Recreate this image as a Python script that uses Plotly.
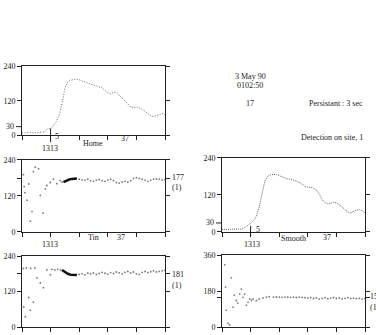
import plotly.graph_objects as go

W, H = 376, 335

# ---------------- data ----------------
home_x = list(range(0, 101, 2))
home_y = [8, 9, 8, 10, 9, 10, 11, 10, 12, 24, 22, 35, 48, 70, 110, 165, 186, 192, 195, 196,
          193, 190, 186, 182, 178, 175, 172, 168, 165, 156, 148, 144, 150, 148, 140, 130,
          120, 108, 98, 97, 99, 95, 90, 84, 76, 68, 65, 68, 72, 76, 72]

smooth_x = list(range(0, 101, 2))
smooth_y = [7, 7, 8, 8, 8, 8, 8, 9, 14, 20, 27, 36, 50, 80, 125, 165, 180, 185, 186, 186,
            182, 178, 173, 171, 171, 168, 165, 160, 155, 147, 144, 145, 141, 135, 122, 105,
            94, 91, 92, 96, 93, 88, 80, 72, 64, 61, 66, 70, 72, 68, 61]

tin_x = [1, 1.5, 2, 3.5, 4.7, 5.8, 7, 8, 9.3, 11.6, 12.8, 14.7, 16.3, 17.4, 19.8, 22, 24.4, 26.7, 28,
         40, 42, 44, 46, 48, 50, 52, 54, 56, 58, 60, 62, 64, 66, 68, 70, 72, 74, 76, 78, 80,
         82, 84, 86, 88, 90, 92, 94, 96, 98, 100]
tin_y = [190, 150, 130, 105, 159, 35, 67, 200, 215, 210, 121, 62, 143, 154, 164, 175, 160, 170, 165,
         175, 173, 172, 175, 170, 168, 172, 174, 170, 168, 172, 175, 170, 164, 162, 166, 168, 165, 170,
         178, 180, 178, 175, 172, 168, 172, 175, 176, 175, 172, 173]
tin_bold_x = [29, 31, 33, 35, 37, 38.4]
tin_bold_y = [165, 170, 174, 176, 177, 177]

p3_x = [1, 1.2, 2.3, 3, 4.7, 5.8, 6, 8, 9, 10.5, 12.8, 15, 17.4, 19.8, 20.9, 23, 25, 27,
        40, 42, 44, 46, 48, 50, 52, 54, 56, 58, 60, 62, 64, 66, 68, 70, 72, 74, 76, 78, 80,
        82, 84, 86, 88, 90, 92, 94, 96, 98, 100]
p3_y = [198, 68, 35, 200, 100, 57, 198, 84, 200, 166, 149, 133, 193, 177, 195, 193, 195, 192,
        178, 180, 177, 182, 180, 183, 178, 181, 185, 182, 179, 184, 181, 186, 183, 180, 185, 188,
        183, 186, 180, 178, 185, 188, 184, 187, 190, 186, 188, 190, 192]
p3_bold_x = [28, 30, 32, 34, 36, 38.4]
p3_bold_y = [193, 186, 180, 177, 176, 176]

p5_x = [1.9, 2.5, 3, 4.2, 5.4, 6.5, 7.7, 8.5, 10, 11, 12.4, 13.5, 14.7, 15.9, 17, 18.2, 19.4, 20.6,
        21.7, 24, 26, 28.7, 31, 33, 36, 38, 40, 42, 44, 46, 48, 50, 52, 54, 56, 58, 60, 62, 64,
        66, 68, 70, 72, 74, 76, 78, 80, 82, 84, 86, 88, 90, 92, 94, 96, 98, 100]
p5_y = [311, 200, 84, 19, 11, 246, 100, 160, 133, 120, 165, 190, 149, 165, 109, 125, 141, 133,
        141, 133, 140, 146, 150, 152, 150, 151, 150, 149, 150, 151, 149, 150, 148, 150, 149, 147,
        145, 148, 143, 146, 140, 144, 147, 142, 145, 148, 143, 146, 141, 144, 147, 143, 145, 142,
        144, 140, 143]

# ---------------- layout helpers ----------------
FONT = "Liberation Serif"
INK = "#222222"
DOT = "#777777"


def dom_x(l, r):
    return [l / W, r / W]


def dom_y(t, b):
    return [1 - b / H, 1 - t / H]


panels = {
    1: dict(x=(22, 165), y=(64, 135), yr=240),
    2: dict(x=(22, 165), y=(160, 234), yr=240),
    3: dict(x=(22, 165), y=(259, 332), yr=240),
    4: dict(x=(222, 365), y=(158, 234), yr=240),
    5: dict(x=(222, 365), y=(258, 332), yr=360),
}
ytick = {
    1: ([0, 120, 240], ["0", "120", "240"]),
    2: ([0, 120, 177, 240], ["0", "120", "", "240"]),
    3: ([0, 120, 181, 240], ["0", "120", "", "240"]),
    4: ([0, 120, 240], ["0", "120", "240"]),
    5: ([0, 148, 180, 360], ["0", "", "180", "360"]),
}

fig = go.Figure()

def add(xs, ys, k, mode="markers", width=1, color=DOT, size=1.8, dash=None):
    sfx = "" if k == 1 else str(k)
    tr = go.Scatter(x=xs, y=ys, mode=mode, xaxis="x" + sfx, yaxis="y" + sfx,
                    showlegend=False, hoverinfo="skip", cliponaxis=False)
    if "markers" in mode:
        tr.marker = dict(size=size, color=color, line=dict(width=0))
    if "lines" in mode:
        tr.line = dict(width=width, color=color, dash=dash)
    fig.add_trace(tr)

add(home_x, home_y, 1, mode="lines", width=1, color="#666", dash="1px,1.6px")
add(tin_x, tin_y, 2)
add(tin_bold_x, tin_bold_y, 2, mode="lines", width=2.5, color="#111")
add(p3_x, p3_y, 3)
add(p3_bold_x, p3_bold_y, 3, mode="lines", width=2.5, color="#111")
add(smooth_x, smooth_y, 4, mode="lines", width=1, color="#666", dash="1px,1px")
add(p5_x, p5_y, 5)

layout = dict(width=W, height=H, margin=dict(l=0, r=0, t=0, b=0),
              paper_bgcolor="white", plot_bgcolor="white",
              font=dict(family=FONT, size=8, color=INK))
for k, p in panels.items():
    sfx = "" if k == 1 else str(k)
    tv, tt = ytick[k]
    layout["xaxis" + sfx] = dict(domain=dom_x(*p["x"]), range=[0, 100], anchor="y" + sfx,
                                 showgrid=False, zeroline=False, showline=True, linecolor=INK,
                                 linewidth=1, mirror=True, ticks="outside", ticklen=4,
                                 tickcolor=INK, tickvals=[0, 20, 40, 60, 80, 100],
                                 showticklabels=False, fixedrange=True)
    layout["yaxis" + sfx] = dict(domain=dom_y(*p["y"]), range=[0, p["yr"]], anchor="x" + sfx,
                                 showgrid=False, zeroline=False, showline=True, linecolor=INK,
                                 linewidth=1, mirror="ticks", ticks="outside", ticklen=4,
                                 tickcolor=INK, tickvals=tv, ticktext=tt,
                                 tickfont=dict(family=FONT, size=8, color=INK), fixedrange=True)
fig.update_layout(**layout)

def txt(x, y, s, anchor="center", size=8):
    fig.add_annotation(x=x / W, y=1 - y / H, xref="paper", yref="paper", text=s,
                       showarrow=False, xanchor=anchor, yanchor="middle",
                       font=dict(family=FONT, size=size, color=INK), borderpad=0)

def seg(x0, y0, x1, y1):
    fig.add_shape(type="line", xref="paper", yref="paper", x0=x0 / W, y0=1 - y0 / H,
                  x1=x1 / W, y1=1 - y1 / H, line=dict(color=INK, width=1))

# header text
txt(250, 75, "3 May 90")
txt(250, 84, "0102:50")
txt(250, 102, "17")
txt(364, 102, "Persistant : 3 sec", anchor="right")
txt(364, 137, "Detection on site, 1", anchor="right")

# panel 1 labels
txt(10, 126, "30")
seg(16, 126, 22, 126)
seg(50.6, 128, 50.6, 142)
txt(57, 136, "5")
txt(50, 148, "1313")
txt(93, 143, "Home")
txt(125, 138, "37")

# panel 2 labels
txt(171, 178, "177", anchor="left")
txt(171, 189, "(1)", anchor="left")
txt(50, 247, "1313")
txt(93, 240, "Tin")
txt(121, 240, "37")

# panel 3 labels
txt(171, 278, "181", anchor="left")
txt(171, 289, "(1)", anchor="left")

# panel 4 labels
txt(210, 225, "30")
seg(216, 225, 222, 225)
seg(250.6, 228, 250.6, 238)
txt(258, 232, "5")
txt(252, 247, "1313")
txt(293, 241, "Smooth")
txt(327, 240, "37")

# panel 5 labels (cut at the right edge, as in the reference)
txt(369, 301, "150", anchor="left")
txt(369, 312, "(1)", anchor="left")

fig.write_html("out.html")
